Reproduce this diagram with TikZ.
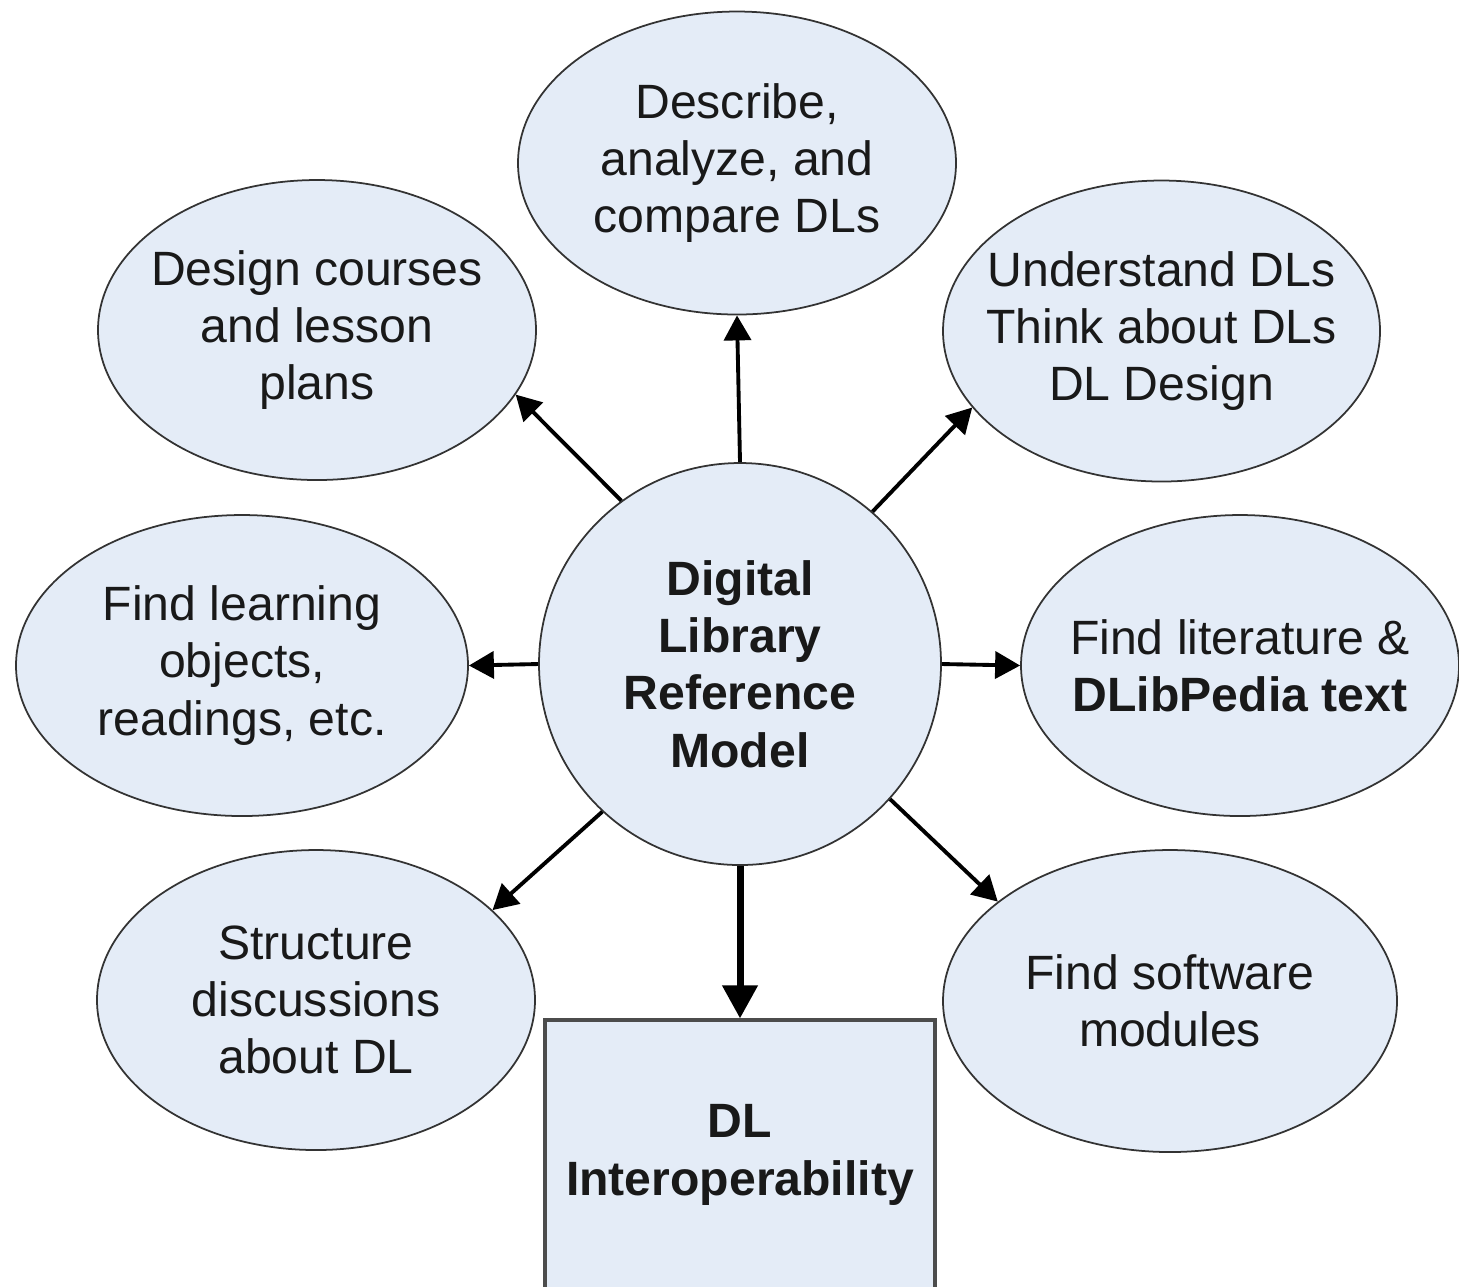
\documentclass[tikz,border=0pt]{standalone}
\usepackage{fontspec}
\setmainfont{Liberation Sans}
\usetikzlibrary{shapes.geometric,arrows.meta}
\definecolor{ovalfill}{RGB}{228,236,247}

\begin{document}
\begin{tikzpicture}[
    oval/.style={ellipse, draw=black!80, line width=0.5pt, fill=ovalfill, inner xsep=-1cm, inner ysep=0pt,
        align=center, text=black!90, font=\fontsize{13.7}{16.3}\selectfont},
    usebox/.style={rectangle, draw=black!70, line width=0.9pt, fill=ovalfill, inner sep=0pt,
        align=center, text=black!90, font=\fontsize{13.7}{16.3}\selectfont\bfseries},
    usearrow/.style={line width=1.1pt, -{Triangle[length=2.5mm,width=2.7mm]}},
    bigarrow/.style={line width=2pt, -{Triangle[length=3.3mm,width=3.4mm]}}
]
    \useasboundingbox (0,0) rectangle (14.59,-12.86);

    % The model in the middle
    \node[oval, minimum size=4.02cm, font=\fontsize{13.7}{16.3}\selectfont\bfseries] (dlrm) at (7.40,-6.64) {Digital\\Library\\Reference\\Model};

    % Uses around it
    \node[oval, minimum width=4.38cm, minimum height=3.03cm] (describe) at (7.37,-1.63) {Describe,\\analyze, and\\compare DLs};
    \node[oval, minimum width=4.38cm, minimum height=3.00cm] (courses) at (3.17,-3.30) {Design courses\\and lesson\\plans};
    \node[oval, minimum width=4.37cm, minimum height=3.01cm] (understand) at (11.615,-3.31) {Understand DLs\\Think about DLs\\DL Design};
    \node[oval, minimum width=4.52cm, minimum height=3.01cm] (learning) at (2.42,-6.655) {Find learning\\objects,\\readings, etc.};
    \node[oval, minimum width=4.38cm, minimum height=3.01cm] (literature) at (12.40,-6.655) {Find literature \&\\\textbf{DLibPedia text}};
    \node[oval, minimum width=4.38cm, minimum height=3.00cm] (discussions) at (3.16,-10.00) {Structure\\discussions\\about DL};
    \node[oval, minimum width=4.54cm, minimum height=3.02cm] (software) at (11.70,-10.01) {Find software\\modules};

    % Interoperability box, cut by the page edge
    \node[usebox, minimum width=3.90cm, minimum height=2.70cm] (interop) at (7.40,-11.55) {DL\\Interoperability};

    % Arrows out of the model
    \draw[usearrow] (dlrm.90) -- (describe.-90);
    \draw[usearrow] (dlrm.126) -- (courses.-18.5);
    \draw[usearrow] (dlrm.49) -- (understand.202);
    \draw[usearrow] (dlrm.180) -- (learning.0);
    \draw[usearrow] (dlrm.0) -- (literature.180);
    \draw[usearrow] (dlrm.227) -- (discussions.27);
    \draw[usearrow] (dlrm.-42) -- (software.150.6);
    \draw[bigarrow] (dlrm.south) -- (interop.north);
\end{tikzpicture}
\end{document}
